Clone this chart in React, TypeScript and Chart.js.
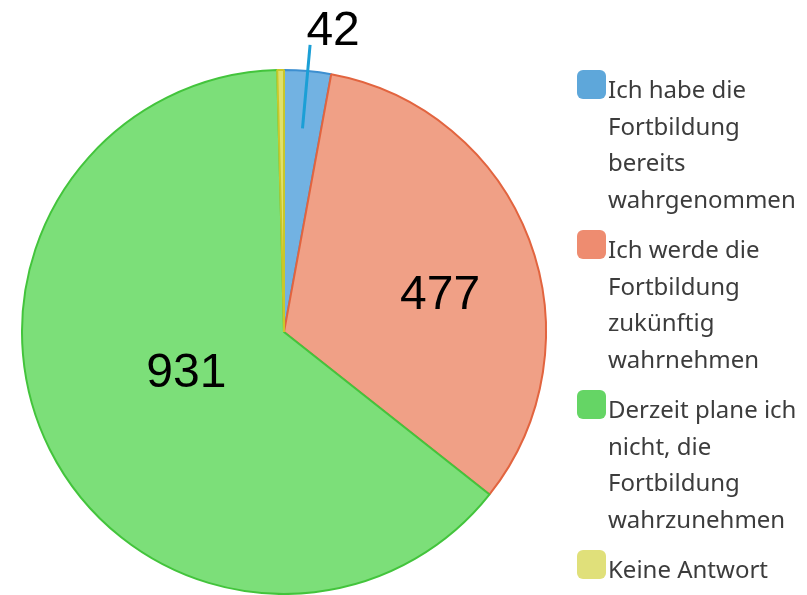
import React, { useEffect, useRef } from "react";
import { Chart, ArcElement, PieController } from "chart.js";

Chart.register(ArcElement, PieController);

const categories: string[][] = [
  ["Ich habe die", "Fortbildung", "bereits", "wahrgenommen"],
  ["Ich werde die", "Fortbildung", "zukünftig", "wahrnehmen"],
  ["Derzeit plane ich", "nicht, die", "Fortbildung", "wahrzunehmen"],
  ["Keine Antwort"],
];
const values = [42, 477, 931, 6];
const valueLabels = ["42", "477", "931", ""];
const sliceColors = ["#72b2e2", "#f0a086", "#7cdf79", "#dfe06c"];
const borderColors = ["#3d8fd0", "#e2643f", "#43c43c", "#c9c72a"];
const legendColors = ["#5ea7da", "#ee8c70", "#65d565", "#e0e07a"];

const valueLabelPlugin = {
  id: "valueLabels",
  afterDraw(chart: any) {
    const ctx = chart.ctx;
    const meta = chart.getDatasetMeta(0);
    const placement = [
      { outside: true, r: 0, da: 0 },
      { outside: false, r: 0.615, da: 6.2 },
      { outside: false, r: 0.4, da: 5.4 },
      { outside: false, r: 0.5, da: 0 },
    ];
    ctx.save();
    ctx.font = "48px 'Liberation Sans', Arial, sans-serif";
    ctx.fillStyle = "#000000";
    ctx.textAlign = "center";
    ctx.textBaseline = "alphabetic";
    meta.data.forEach((arc: any, i: number) => {
      const text = valueLabels[i];
      if (!text) return;
      const p = arc.getProps(["x", "y", "startAngle", "endAngle", "outerRadius"], true);
      const pl = placement[i];
      const mid = (p.startAngle + p.endAngle) / 2 + (pl.da * Math.PI) / 180;
      if (pl.outside) {
        const x1 = p.x + Math.cos(mid) * p.outerRadius * 0.78;
        const y1 = p.y + Math.sin(mid) * p.outerRadius * 0.78;
        const x2 = p.x + Math.cos(mid) * p.outerRadius * 1.1;
        const y2 = p.y + Math.sin(mid) * p.outerRadius * 1.1;
        ctx.strokeStyle = "#1b9fd6";
        ctx.lineWidth = 3;
        ctx.beginPath();
        ctx.moveTo(x1, y1);
        ctx.lineTo(x2, y2);
        ctx.stroke();
        ctx.fillText(text, x2 + 23, y2 - 17 + 17);
      } else {
        const cx = p.x + Math.cos(mid) * p.outerRadius * pl.r;
        const cy = p.y + Math.sin(mid) * p.outerRadius * pl.r;
        ctx.fillText(text, cx, cy + 17);
      }
    });
    ctx.restore();
  },
};

const legendPlugin = {
  id: "sideLegend",
  afterDraw(chart: any) {
    const ctx = chart.ctx;
    const left = 577;
    const textX = 608;
    const lineH = 36.5;
    const gap = 14;
    const box = 29;
    let baseline = 98;
    ctx.save();
    ctx.font = "24px 'Noto Sans', sans-serif";
    ctx.textAlign = "left";
    ctx.textBaseline = "alphabetic";
    categories.forEach((lines, i) => {
      ctx.fillStyle = legendColors[i];
      ctx.beginPath();
      (ctx as any).roundRect(left, baseline - 28, box, box, 6);
      ctx.fill();
      ctx.fillStyle = "#3c3c3c";
      lines.forEach((ln, j) => {
        ctx.fillText(ln, textX, baseline + j * lineH);
      });
      baseline += lines.length * lineH + gap;
    });
    ctx.restore();
  },
};

export default function App() {
  const ref = useRef<HTMLCanvasElement | null>(null);
  useEffect(() => {
    if (!ref.current) return;
    const chart = new Chart(ref.current, {
      type: "pie",
      data: {
        labels: categories.map((l) => l.join(" ")),
        datasets: [
          {
            data: values,
            backgroundColor: sliceColors,
            borderColor: borderColors,
            borderWidth: 2,
          },
        ],
      },
      options: {
        animation: false,
        responsive: false,
        devicePixelRatio: 1,
        layout: { padding: { left: 21, top: 69, right: 260, bottom: 0 } },
        plugins: {
          legend: { display: false },
          tooltip: { enabled: false },
        },
      },
      plugins: [valueLabelPlugin, legendPlugin],
    });
    return () => chart.destroy();
  }, []);
  return (
    <div style={{ position: "absolute", left: 0, top: 0, width: 807, height: 595, background: "#ffffff" }}>
      <canvas ref={ref} width={807} height={595} style={{ display: "block" }} />
    </div>
  );
}
